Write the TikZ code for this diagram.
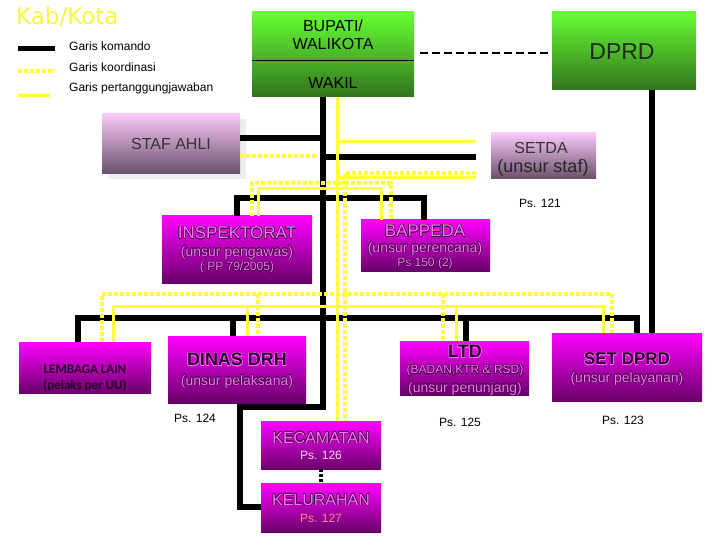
\documentclass[tikz,border=0pt]{standalone}
\usepackage{fontspec}
\usepackage{contour}
\contourlength{0.45pt}
\contournumber{16}
\setmainfont{Liberation Sans}
\newfontfamily\djv{DejaVu Sans}
\newfontfamily\carl{Carlito}
\definecolor{ylw}{RGB}{255,255,60}
\definecolor{kabc}{RGB}{248,248,60}
\definecolor{grnT}{RGB}{102,255,51}
\definecolor{grnB}{RGB}{50,115,30}
\definecolor{magT}{RGB}{255,0,255}
\definecolor{magB}{RGB}{105,0,105}
\definecolor{pnkT}{RGB}{250,200,250}
\definecolor{pnkB}{RGB}{105,80,105}
\definecolor{outl}{RGB}{70,0,70}
\definecolor{inner}{RGB}{245,120,245}
\definecolor{dk}{RGB}{40,0,40}
\newcommand{\olt}[1]{\contour{outl}{\textcolor{inner}{#1}}}
\begin{document}
\begin{tikzpicture}[x=1pt,y=-1pt,
  box/.style={rectangle,draw=none,inner sep=0pt},
  grnbox/.style={box,top color=grnT,bottom color=grnB},
  magbox/.style={box,top color=magT,bottom color=magB},
  pnkbox/.style={box,top color=pnkT,bottom color=pnkB},
  lbl/.style={inner sep=0pt,align=center},
  cmd/.style={line width=6pt,black},
  resp/.style={line width=3pt,ylw},
  coord/.style={line width=4pt,ylw,dash pattern=on 4pt off 2pt},
  f/.style={font=\fontsize{#1}{#1}\selectfont}
]
\useasboundingbox[fill=white] (0,0) rectangle (720,540);

% title and legend
\node[lbl,anchor=west,text=kabc,font=\djv\fontsize{23}{23}\selectfont] (kab) at (16,17) {Kab/Kota};
\coordinate (lg1a) at (18,49); \coordinate (lg1b) at (55,49);
\coordinate (lg2a) at (18,71); \coordinate (lg2b) at (55,71);
\coordinate (lg3a) at (18,96); \coordinate (lg3b) at (50,96);
\draw[line width=5pt,black] (lg1a) -- (lg1b);
\draw[coord] (lg2a) -- (lg2b);
\draw[resp] (lg3a) -- (lg3b);
\node[lbl,anchor=west,f=12] (lt1) at (69,46) {Garis komando};
\node[lbl,anchor=west,f=12] (lt2) at (69,67) {Garis koordinasi};
\node[lbl,anchor=west,f=12] (lt3) at (69,88) {Garis pertanggungjawaban};

% boxes
\node[grnbox,minimum width=162,minimum height=85] (bup) at (333,54.5) {};
\node[grnbox,minimum width=144,minimum height=78] (dprd) at (624,51) {};
\node[box,fill=black!7,minimum width=138,minimum height=60] (stafsh) at (177,149) {};
\node[pnkbox,minimum width=138,minimum height=60] (staf) at (171,144) {};
\node[pnkbox,minimum width=105,minimum height=46] (setda) at (543.5,156) {};
\node[magbox,minimum width=150,minimum height=67] (insp) at (237,249.5) {};
\node[magbox,minimum width=129,minimum height=51] (bapp) at (425.5,245.5) {};
\node[magbox,minimum width=132,minimum height=51] (lemb) at (85,367.5) {};
\node[magbox,minimum width=138,minimum height=67] (dinas) at (237,369.5) {};
\node[magbox,minimum width=129,minimum height=54] (ltd) at (464.5,368) {};
\node[magbox,minimum width=150,minimum height=68] (setd) at (627,367) {};
\node[magbox,minimum width=120,minimum height=48] (kec) at (321,445) {};
\node[magbox,minimum width=120,minimum height=49] (kel) at (321,507.5) {};

\draw[black,line width=0.8pt] (bup.west |- 0,60) -- (bup.east |- 0,60);

% texts
\node[lbl,f=16] (bupt) at (333,35) {BUPATI/\\[2pt]WALIKOTA};
\node[lbl,f=16] (wak) at (333,83) {WAKIL};
\node[lbl,font=\fontsize{23}{23}\selectfont,text=black!85] (dprdt) at (622,52) {DPRD};
\node[lbl,f=16,text=black!80] (staft) at (171,144) {STAF AHLI};
\node[lbl,f=16,text=black!80] (setdat) at (541,148) {SETDA};
\node[lbl,f=18,text=black!85] (setdat2) at (543,168) {(unsur staf)};
\node[lbl,f=12] (ps121) at (540,203) {Ps. 121};
\node[lbl,f=17] (inspt) at (237,233) {\olt{INSPEKTORAT}};
\node[lbl,f=14] (inspt2) at (237,253) {\olt{(unsur pengawas)}};
\node[lbl,f=12] (inspt3) at (237,268) {\olt{( PP 79/2005)}};
\node[lbl,f=17] (bappt) at (425,231) {\olt{BAPPEDA}};
\node[lbl,f=14] (bappt2) at (425,249) {\olt{(unsur perencana)}};
\node[lbl,f=12] (bappt3) at (425,264) {\olt{Ps 150 (2)}};
\node[lbl,font=\carl\bfseries\fontsize{13}{13}\selectfont,text=dk] (lembt) at (85,369) {LEMBAGA LAIN};
\node[lbl,font=\carl\bfseries\fontsize{13}{13}\selectfont,text=dk] (lembt2) at (85,386) {(pelaks per UU)};
\node[lbl,font=\bfseries\fontsize{18}{18}\selectfont] (dinast) at (237,360) {\contour{magT!60}{\textcolor{dk}{DINAS DRH}}};
\node[lbl,f=14] (dinast2) at (237,382) {\olt{(unsur pelaksana)}};
\node[lbl,font=\bfseries\fontsize{18}{18}\selectfont] (ltdt) at (465,352) {\contour{magT!60}{\textcolor{dk}{LTD}}};
\node[lbl,f=12] (ltdt2) at (465,371) {\olt{(BADAN,KTR \& RSD)}};
\node[lbl,f=14] (ltdt3) at (465,389) {\olt{(unsur penunjang)}};
\node[lbl,font=\bfseries\fontsize{17}{17}\selectfont] (setdt) at (627,359) {\contour{magT!60}{\textcolor{dk}{SET DPRD}}};
\node[lbl,f=14] (setdt2) at (627,379) {\olt{(unsur pelayanan)}};
\node[lbl,f=12] (ps124) at (195,418) {Ps. 124};
\node[lbl,f=12] (ps125) at (460,422) {Ps. 125};
\node[lbl,f=12] (ps123) at (623,420) {Ps. 123};
\node[lbl,f=16] (kect) at (321,438) {\olt{KECAMATAN}};
\node[lbl,f=12,text=magT!15] (kect2) at (321,455) {Ps. 126};
\node[lbl,f=16] (kelt) at (321,500) {\olt{KELURAHAN}};
\node[lbl,f=12,text={rgb,255:red,255;green,140;blue,140}] (kelt2) at (321,518) {Ps. 127};

% connectors
\draw[black,line width=2pt,dash pattern=on 8pt off 4pt] (bup.east |- 0,53) ++(6,0) -- (dprd.west |- 0,53);
% command (black)
\draw[cmd] (bup.south -| 323,0) -- (323,407) -- (240,407) -- (240,507) -- (kel.west |- 0,507);
\draw[cmd] (dprd.south -| 652,0) -- (setd.north -| 652,0);
\draw[cmd] (staf.east |- 0,138) -- (323,138);
\draw[cmd] (323,157) -- (476,157);
\draw[cmd] (insp.north -| 237,0) -- (237,198) -- (424,198) -- (bapp.north -| 424,0);
\draw[cmd] (lemb.north -| 78,0) -- (78,318) -- (637,318) -- (setd.north -| 637,0);
\draw[cmd] (233,318) -- (dinas.north -| 233,0);
\draw[cmd] (466,318) -- (ltd.north -| 466,0);
\draw[black,line width=4pt,dash pattern=on 3pt off 2pt] (kec.south) -- (kel.north);
% responsibility (solid yellow)
\draw[resp] (bup.south -| 337,0) -- (kec.north -| 337,0);
\draw[resp] (337,142) -- (476,142);
\draw[resp] (337,178) -- (476,178);
\draw[resp] (insp.north -| 258,0) -- (258,189) -- (381,189) -- (bapp.north -| 381,0);
\draw[resp] (lemb.north -| 113,0) -- (113,306) -- (603,306) -- (setd.north -| 603,0);
\draw[resp] (247,306) -- (dinas.north -| 247,0);
\draw[resp] (456,306) -- (ltd.north -| 456,0);
% coordination (dotted yellow)
\draw[coord] (staf.east |- 0,156) -- (318,156);
\draw[coord] (setda.west |- 0,173) ++(-15,0) -- (345,173) -- (kec.north -| 345,0);
\draw[coord] (insp.north -| 252,0) -- (252,183) -- (391,183) -- (bapp.north -| 391,0);
\draw[coord] (lemb.north -| 102,0) -- (102,294) -- (612,294) -- (setd.north -| 612,0);
\draw[coord] (258,294) -- (dinas.north -| 258,0);
\draw[coord] (443,294) -- (ltd.north -| 443,0);
\end{tikzpicture}
\end{document}
